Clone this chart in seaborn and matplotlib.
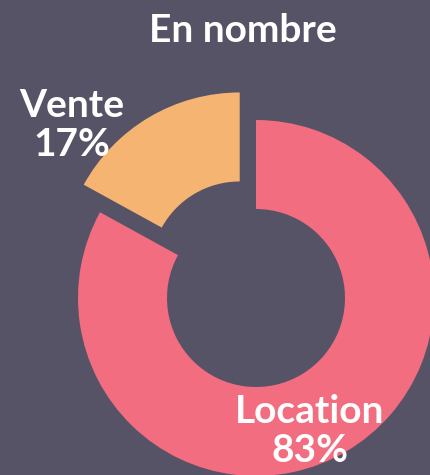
import matplotlib
matplotlib.use("Agg")
import matplotlib.pyplot as plt
import seaborn as sns

# Data
categories = ["Location", "Vente"]
shares = [83, 17]
colors = ["#f26d7f", "#f5b472"]
title = "En nombre"

bg = "#575366"

sns.set_theme(style="white", rc={"figure.facecolor": bg, "axes.facecolor": bg})
plt.rcParams['font.family'] = ['Lato', 'DejaVu Sans']

fig = plt.figure(figsize=(4.3, 4.75), dpi=100)
ax = fig.add_axes([0, 0, 1, 1])

# donut in pixel units, Vente slice pulled out (explode is absolute here)
ax.pie(shares, colors=colors, startangle=90, counterclock=False,
       explode=[0, 32], center=(256, 177), radius=178,
       wedgeprops=dict(width=89, linewidth=0))
ax.set_xlim(0, 430)
ax.set_ylim(0, 475)
ax.set_aspect("equal")
ax.axis("off")

label_pos = {"Location": (310, 44), "Vente": (72, 350)}
for cat, val in zip(categories, shares):
    x, y = label_pos[cat]
    ax.text(x, y, f"{cat}\n{val}%", ha="center", va="center", color="white",
            fontsize=28, fontweight="bold", linespacing=1.12)

ax.text(243, 444, title, ha="center", va="center", color="white",
        fontsize=28, fontweight="bold")

fig.savefig("out.png", dpi=100, facecolor=bg)
